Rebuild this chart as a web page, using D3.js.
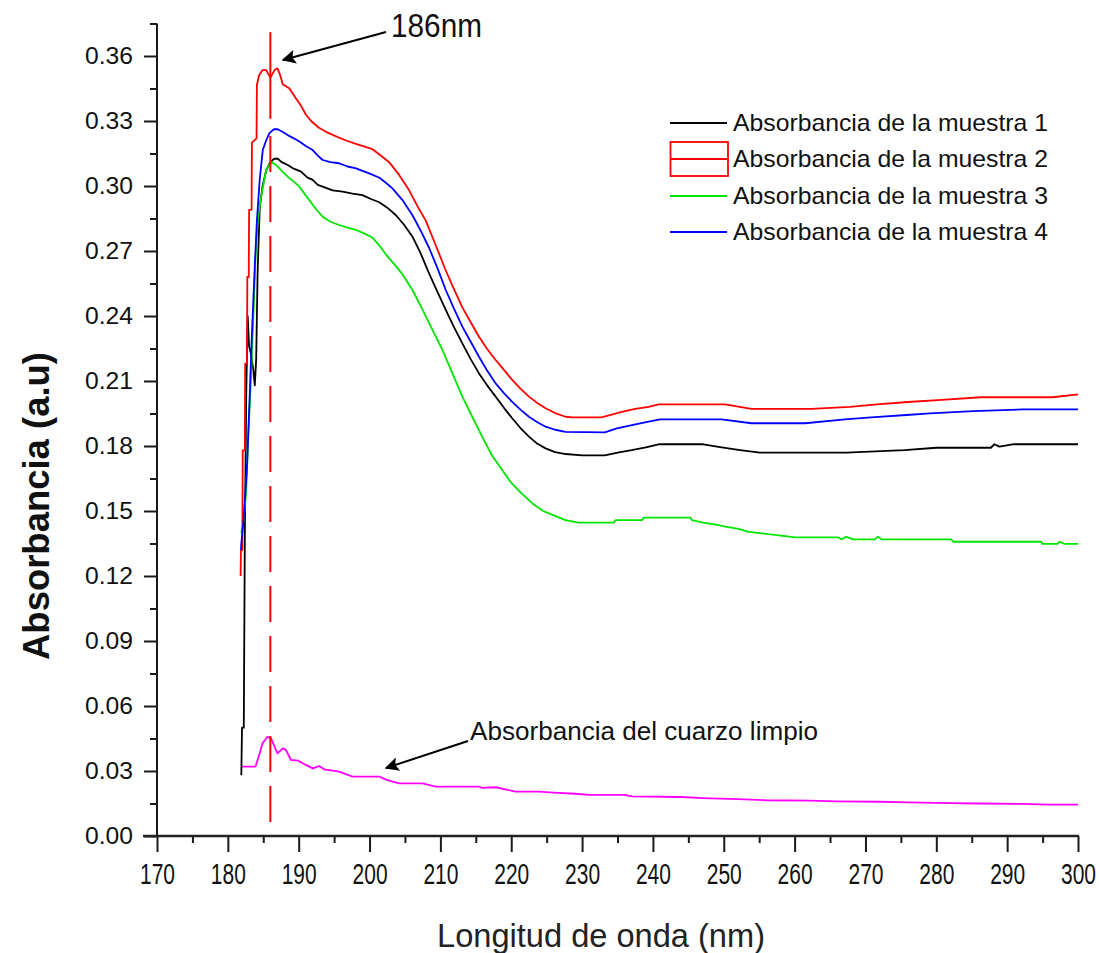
<!DOCTYPE html>
<html>
<head>
<meta charset="utf-8">
<script src="https://cdn.jsdelivr.net/npm/d3@7"></script>
<style>
  body { margin: 0; background: #fff; }
  svg { display: block; }
  text { font-family: "Liberation Sans", Arial, sans-serif; }
</style>
</head>
<body>
<svg id="chart" width="1100" height="953"></svg>
<script>
// Axis ticks
const xTicks = d3.range(170, 301, 10);
const xMinorTicks = d3.range(175, 300, 10);
const yTicks = d3.range(0, 13).map(i => +(i * 0.03).toFixed(2));
const yMinorTicks = d3.range(0, 13).map(i => +(i * 0.03 + 0.015).toFixed(3));

// Series labels and colours
const seriesNames = [
  "Absorbancia de la muestra 1",
  "Absorbancia de la muestra 2",
  "Absorbancia de la muestra 3",
  "Absorbancia de la muestra 4"
];
const seriesColors = ["#000000", "#ff0000", "#00e600", "#0000ff"];
const cuarzoColor = "#ff00ff";
const peakNm = 186;

// Spectra: [wavelength (nm), absorbance (a.u)]
const muestra1 = [
  [181.9, 0.028], [182.0, 0.050], [182.25, 0.050], [182.4, 0.140], [182.6, 0.205],
  [182.8, 0.240], [183.0, 0.226], [183.3, 0.222], [183.6, 0.215], [183.8, 0.208],
  [184.0, 0.220], [184.2, 0.260], [184.5, 0.290], [184.9, 0.300], [185.4, 0.307],
  [185.9, 0.3105], [186.5, 0.3125], [187.0, 0.3127], [187.6, 0.311], [188.45, 0.3097],
  [189.3, 0.308], [190.34, 0.3066], [191.2, 0.304], [191.97, 0.3028], [192.7, 0.3005],
  [193.38, 0.2997], [194.8, 0.298], [196.2, 0.2974], [197.6, 0.2965], [199.0, 0.2958],
  [200.2, 0.294], [201.37, 0.2925], [202.5, 0.290], [203.7, 0.2866], [204.9, 0.282],
  [206.06, 0.2766], [207.2, 0.269], [208.4, 0.2597], [209.6, 0.251], [210.76, 0.2428],
  [211.9, 0.235], [213.1, 0.2274], [214.3, 0.220], [215.45, 0.2135], [216.6, 0.208],
  [217.8, 0.2028], [219.0, 0.1975], [220.14, 0.1928], [221.3, 0.1883], [222.5, 0.1843],
  [223.7, 0.181], [224.84, 0.1789], [226.2, 0.1772], [227.66, 0.1763], [230.0, 0.1757],
  [233.2, 0.1757], [235.2, 0.1771], [237.0, 0.1781], [239.0, 0.1794], [240.8, 0.1808],
  [247.1, 0.1808], [249.7, 0.1794], [252.3, 0.1781], [255.1, 0.1769], [267.3, 0.1769],
  [275.5, 0.1781], [280.0, 0.1792], [287.7, 0.1792], [288.2, 0.1808], [288.9, 0.1797],
  [290.8, 0.1808], [300.0, 0.1808]
];

const muestra2 = [
  [181.8, 0.120], [181.85, 0.132], [182.05, 0.132], [182.1, 0.178], [182.4, 0.178],
  [182.45, 0.218], [182.7, 0.218], [182.75, 0.258], [182.95, 0.258], [183.0, 0.289],
  [183.35, 0.289], [183.4, 0.320], [184.05, 0.322], [184.1, 0.3466], [184.4, 0.351],
  [184.9, 0.3535], [185.4, 0.3535], [186.0, 0.350], [186.6, 0.3535], [187.0, 0.3543],
  [187.3, 0.352], [187.75, 0.347], [188.7, 0.345], [189.5, 0.341], [190.34, 0.337],
  [191.0, 0.333], [191.75, 0.330], [192.8, 0.327], [193.86, 0.325], [195.2, 0.323],
  [196.68, 0.321], [198.5, 0.319], [200.42, 0.317], [201.4, 0.3145], [202.77, 0.311],
  [204.2, 0.305], [205.59, 0.298], [206.8, 0.2905], [207.94, 0.284], [209.3, 0.273],
  [210.76, 0.261], [211.9, 0.2525], [213.1, 0.244], [214.3, 0.237], [215.45, 0.2304],
  [216.6, 0.2248], [217.8, 0.2197], [219.0, 0.215], [220.14, 0.2105], [221.3, 0.2065],
  [222.5, 0.2028], [223.7, 0.1998], [224.84, 0.1974], [226.2, 0.1952], [227.66, 0.1935],
  [228.6, 0.1932], [232.7, 0.1932], [234.2, 0.1945], [235.6, 0.1958], [237.5, 0.1971],
  [239.4, 0.1981], [240.8, 0.1992], [250.2, 0.1992], [253.9, 0.1971], [262.4, 0.1971],
  [267.8, 0.1981], [271.6, 0.1992], [276.0, 0.2003], [280.2, 0.2012], [286.3, 0.2025],
  [296.4, 0.2025], [299.7, 0.2037], [300.0, 0.2037]
];

const muestra3 = [
  [181.9, 0.140], [182.2, 0.145], [182.6, 0.160], [182.9, 0.186], [183.3, 0.2136],
  [183.6, 0.2397], [183.9, 0.266], [184.2, 0.284], [184.7, 0.295], [185.4, 0.3074],
  [186.1, 0.3112], [186.8, 0.3097], [187.6, 0.307], [188.45, 0.3043], [189.3, 0.302],
  [190.1, 0.2997], [190.8, 0.2965], [191.5, 0.2935], [192.4, 0.2895], [193.38, 0.2858],
  [194.5, 0.2835], [195.7, 0.282], [196.9, 0.2808], [198.1, 0.2797], [199.3, 0.278],
  [200.4, 0.2762], [201.4, 0.2725], [202.5, 0.2676], [203.6, 0.2635], [204.65, 0.2592],
  [206.06, 0.252], [207.5, 0.2428], [208.9, 0.2335], [210.3, 0.2243], [211.7, 0.2135],
  [213.1, 0.2028], [214.5, 0.1935], [215.9, 0.1843], [217.3, 0.1755], [218.7, 0.169],
  [220.0, 0.163], [221.5, 0.158], [223.0, 0.1535], [224.5, 0.150], [226.0, 0.148],
  [227.66, 0.1458], [229.5, 0.1446], [234.5, 0.1446], [234.7, 0.1458], [238.45, 0.1458],
  [238.7, 0.1469], [245.3, 0.1469], [245.5, 0.1458], [247.1, 0.1446], [249.3, 0.1435],
  [250.2, 0.1428], [252.1, 0.1417], [253.5, 0.1404], [255.35, 0.1397], [257.5, 0.1389],
  [260.1, 0.1378], [266.2, 0.1378], [266.6, 0.1369], [267.3, 0.1381], [268.3, 0.1369],
  [271.3, 0.1369], [271.8, 0.1381], [272.3, 0.1369], [282.1, 0.1369], [282.4, 0.1358],
  [294.8, 0.1358], [295.0, 0.1348], [297.1, 0.1348], [297.4, 0.1358], [298.1, 0.1348],
  [300.0, 0.1348]
];

const muestra4 = [
  [181.85, 0.132], [181.9, 0.135], [182.25, 0.147], [182.7, 0.170], [183.06, 0.201],
  [183.4, 0.232], [183.8, 0.263], [184.1, 0.284], [184.5, 0.303], [184.93, 0.3166],
  [185.4, 0.321], [185.87, 0.3244], [186.5, 0.3262], [187.04, 0.3262], [187.7, 0.325],
  [188.45, 0.3235], [189.3, 0.322], [190.1, 0.3205], [191.0, 0.3185], [191.97, 0.3166],
  [192.7, 0.314], [193.38, 0.312], [194.5, 0.311], [195.7, 0.3105], [196.9, 0.309],
  [198.1, 0.3081], [199.0, 0.307], [199.96, 0.3058], [201.4, 0.3038], [202.3, 0.3015],
  [203.2, 0.299], [204.65, 0.2935], [206.06, 0.2865], [207.2, 0.2795], [208.4, 0.2715],
  [209.6, 0.262], [210.76, 0.252], [211.9, 0.2435], [213.1, 0.2351], [214.3, 0.228],
  [215.45, 0.2212], [216.6, 0.2148], [217.8, 0.2089], [219.0, 0.2043], [220.14, 0.2004],
  [221.3, 0.1968], [222.5, 0.1935], [223.7, 0.191], [224.84, 0.1889], [226.2, 0.1875],
  [227.66, 0.1865], [233.2, 0.1863], [234.9, 0.1881], [237.7, 0.1901], [239.4, 0.1912],
  [241.0, 0.1923], [249.7, 0.1923], [253.9, 0.1905], [261.5, 0.1905], [267.1, 0.1923],
  [270.8, 0.1932], [275.8, 0.1943], [279.1, 0.1951], [285.2, 0.1961], [292.2, 0.1969],
  [300.0, 0.1969]
];

const cuarzo = [
  [182.0, 0.032], [183.9, 0.032], [184.5, 0.0382], [184.9, 0.0428], [185.6, 0.0458],
  [186.1, 0.045], [187.0, 0.0382], [187.8, 0.0405], [188.2, 0.0397], [188.9, 0.0351],
  [189.9, 0.0348], [191.0, 0.0328], [192.0, 0.0312], [192.9, 0.0323], [193.6, 0.0308],
  [195.7, 0.0297], [197.6, 0.0274], [201.4, 0.0274], [202.5, 0.0258], [204.2, 0.0243],
  [207.5, 0.0243], [209.35, 0.0228], [215.45, 0.0228], [215.9, 0.0222], [217.8, 0.0225],
  [220.6, 0.0205], [223.9, 0.0205], [226.0, 0.020], [229.0, 0.0195], [231.0, 0.019],
  [236.0, 0.019], [237.0, 0.0183], [244.0, 0.018], [247.0, 0.0175], [252.0, 0.017],
  [256.0, 0.0165], [262.0, 0.0163], [266.0, 0.016], [272.0, 0.0158], [276.0, 0.0155],
  [282.0, 0.0152], [286.0, 0.015], [292.0, 0.0148], [296.0, 0.0145], [300.0, 0.0145]
];

const series = [muestra1, muestra2, muestra3, muestra4];

// Layout
const svg = d3.select("#chart");
const x = d3.scaleLinear().domain([170, 300]).range([157, 1078]);
const y = d3.scaleLinear().domain([0, 0.375]).range([836, 23.5]);

const defs = svg.append("defs");
defs.append("marker")
  .attr("id", "arrowhead")
  .attr("viewBox", "0 0 10 10")
  .attr("refX", 9).attr("refY", 5)
  .attr("markerWidth", 9).attr("markerHeight", 7)
  .attr("markerUnits", "strokeWidth")
  .attr("orient", "auto")
  .append("path")
  .attr("d", "M0,0 L10,5 L0,10 L2,5 Z")
  .attr("fill", "#000");

// Spectra
const line = d3.line().x(d => x(d[0])).y(d => y(d[1]));
const plot = svg.append("g");
plot.append("path")
  .datum(cuarzo)
  .attr("d", line)
  .attr("fill", "none")
  .attr("stroke", cuarzoColor)
  .attr("stroke-width", 1.8);
[0, 2, 1, 3].forEach(i => {
  plot.append("path")
    .datum(series[i])
    .attr("d", line)
    .attr("fill", "none")
    .attr("stroke", seriesColors[i])
    .attr("stroke-width", 1.8)
    .attr("stroke-linejoin", "round");
});

// Peak marker at 186 nm
const peakX = x(peakNm);
svg.append("line")
  .attr("x1", peakX).attr("x2", peakX)
  .attr("y1", y(0.371)).attr("y2", y(0.331))
  .attr("stroke", "#ff0000").attr("stroke-width", 2);
svg.append("line")
  .attr("x1", peakX).attr("x2", peakX)
  .attr("y1", y(0.3231)).attr("y2", y(0.0046))
  .attr("stroke", "#ff0000").attr("stroke-width", 2)
  .attr("stroke-dasharray", "36,14");

// Axes
const axisColor = "#1a1a1a";
const gx = svg.append("g").attr("transform", `translate(0,${y(0)})`);
gx.call(d3.axisBottom(x).tickValues(xTicks).tickSize(16).tickSizeOuter(0).tickFormat(d3.format("d")));
const gxMinor = svg.append("g").attr("transform", `translate(0,${y(0)})`);
gxMinor.call(d3.axisBottom(x).tickValues(xMinorTicks).tickSize(7).tickSizeOuter(0).tickFormat(""));

const gy = svg.append("g").attr("transform", `translate(${x(170)},0)`);
gy.call(d3.axisLeft(y).tickValues(yTicks).tickSize(13).tickSizeOuter(0).tickPadding(11).tickFormat(d3.format(".2f")));
const gyMinor = svg.append("g").attr("transform", `translate(${x(170)},0)`);
gyMinor.call(d3.axisLeft(y).tickValues(yMinorTicks).tickSize(7).tickSizeOuter(0).tickFormat(""));

[gx, gxMinor, gy, gyMinor].forEach(g => {
  g.select(".domain").remove();
  g.selectAll(".tick line").attr("stroke", axisColor).attr("stroke-width", 2);
});

// Condensed wavelength labels
gx.selectAll(".tick text")
  .attr("y", 0).attr("dy", 0)
  .attr("transform", "translate(0,48) scale(0.7,1)")
  .attr("font-size", 30)
  .attr("fill", "#111");

gy.selectAll(".tick text")
  .attr("font-size", 24)
  .attr("fill", "#111")
  .attr("textLength", 48)
  .attr("lengthAdjust", "spacingAndGlyphs");

// Axis lines
svg.append("line")
  .attr("x1", x(170)).attr("x2", x(170))
  .attr("y1", y(0.375)).attr("y2", y(0))
  .attr("stroke", axisColor).attr("stroke-width", 2);
svg.append("line")
  .attr("x1", x(170) - 14).attr("x2", x(300) + 1)
  .attr("y1", y(0)).attr("y2", y(0))
  .attr("stroke", "#222").attr("stroke-width", 2.6);

// Axis titles
svg.append("text")
  .attr("x", 601).attr("y", 947)
  .attr("text-anchor", "middle")
  .attr("font-size", 34)
  .attr("fill", "#222")
  .attr("textLength", 328)
  .attr("lengthAdjust", "spacingAndGlyphs")
  .text("Longitud de onda (nm)");

svg.append("text")
  .attr("transform", "translate(49,506) rotate(-90)")
  .attr("text-anchor", "middle")
  .attr("font-size", 36)
  .attr("font-weight", "bold")
  .attr("fill", "#111")
  .attr("textLength", 308)
  .attr("lengthAdjust", "spacingAndGlyphs")
  .text("Absorbancia (a.u)");

// Legend
const legend = svg.append("g");
const rowY = [123, 159, 196, 232];
seriesNames.forEach((name, i) => {
  const row = legend.append("g");
  if (i === 1) {
    row.append("rect")
      .attr("x", 670.5).attr("y", 142)
      .attr("width", 57.5).attr("height", 34)
      .attr("fill", "none")
      .attr("stroke", seriesColors[i]).attr("stroke-width", 1.8);
  }
  row.append("line")
    .attr("x1", 670).attr("x2", 727)
    .attr("y1", rowY[i]).attr("y2", rowY[i])
    .attr("stroke", seriesColors[i]).attr("stroke-width", 1.8);
  row.append("text")
    .attr("x", 733).attr("y", rowY[i] + 8)
    .attr("font-size", 24)
    .attr("fill", "#111")
    .attr("textLength", 315)
    .attr("lengthAdjust", "spacingAndGlyphs")
    .text(name);
});

// Annotations
svg.append("text")
  .attr("x", 391).attr("y", 37)
  .attr("font-size", 34)
  .attr("fill", "#111")
  .attr("textLength", 91)
  .attr("lengthAdjust", "spacingAndGlyphs")
  .text(`${peakNm}nm`);
svg.append("line")
  .attr("x1", 386).attr("y1", 32)
  .attr("x2", 283).attr("y2", 60)
  .attr("stroke", "#000").attr("stroke-width", 2)
  .attr("marker-end", "url(#arrowhead)");

svg.append("text")
  .attr("x", 470).attr("y", 740)
  .attr("font-size", 26)
  .attr("fill", "#111")
  .attr("textLength", 348)
  .attr("lengthAdjust", "spacingAndGlyphs")
  .text("Absorbancia del cuarzo limpio");
svg.append("line")
  .attr("x1", 468).attr("y1", 741)
  .attr("x2", 386).attr("y2", 768)
  .attr("stroke", "#000").attr("stroke-width", 2)
  .attr("marker-end", "url(#arrowhead)");
</script>
</body>
</html>
